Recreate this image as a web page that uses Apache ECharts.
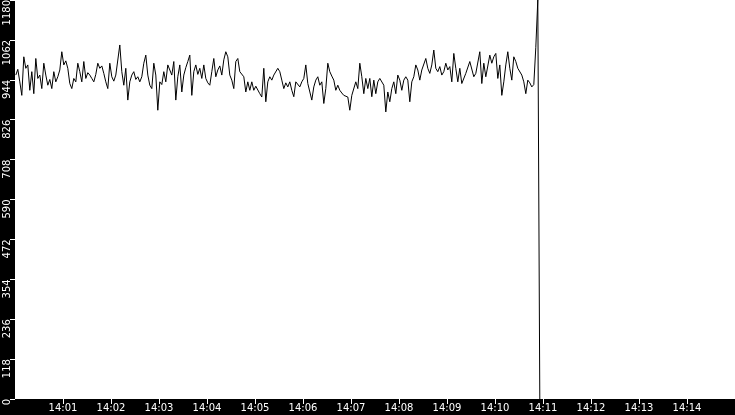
<!DOCTYPE html>
<html>
<head>
<meta charset="utf-8">
<script src="https://cdn.jsdelivr.net/npm/echarts@6/dist/echarts.min.js"></script>
<style>
html,body{margin:0;padding:0;background:#000;}
#chart{width:735px;height:415px;}
</style>
</head>
<body>
<div id="chart"></div>
<script>
// Sample times: first sample at 14:00:01, one sample every 2.5 s
const startTime = '14:00:01';
const stepSeconds = 2.5;

// Readings (values) in time order
const values = [
  // 14:00:01 - 14:01:49
  958,975,938,898,1012,978,988,913,968,903,1007,948,958,918,993,958,928,945,918,968,938,953,
  973,1027,988,1000,978,933,918,948,938,993,968,938,998,948,965,958,948,938,960,993,978,985,
  // 14:01:49 - 14:03:39
  963,938,918,993,953,940,958,958,1047,968,928,978,884,938,958,968,945,953,938,953,993,1017,
  958,928,918,993,958,854,938,930,968,938,988,993,958,998,884,953,988,908,958,980,998,1017,
  // 14:03:39 - 14:05:29
  898,968,988,960,978,948,988,948,935,928,968,1007,953,973,985,958,1003,1027,1012,958,943,918,
  998,1007,968,963,953,908,938,913,938,913,925,928,903,893,978,879,938,953,943,958,963,978,
  // 14:05:29 - 14:07:19
  968,943,918,935,923,938,913,894,938,938,923,938,948,988,933,938,884,923,943,953,928,938,
  874,918,993,968,955,943,913,928,913,905,898,903,893,854,898,903,938,918,993,953,903,948,
  // 14:07:19 - 14:09:09
  918,948,894,943,903,938,948,943,928,849,908,879,918,938,903,958,943,913,943,953,943,879,
  938,953,988,973,943,973,968,1007,978,963,988,1032,978,968,983,958,968,993,973,983,938,1022,
  // 14:09:09 - 14:10:56
  978,938,978,933,928,963,968,998,1002,953,963,958,1027,933,993,953,958,1017,993,1012,1022,948,
  988,898,938,988,1027,978,943,1012,998,978,978,958,938,903,943,935,923,930,
  1040,1180,0
];

const xTickLabels = ['14:01','14:02','14:03','14:04','14:05','14:06','14:07','14:08','14:09','14:10','14:11','14:12','14:13','14:14'];
const xStart = '14:00:00';
const xEnd = '14:15:00';
const yMax = 1180;
const yInterval = 118;

function toSec(s) {
  const p = s.split(':').map(Number);
  return p[0] * 3600 + p[1] * 60 + (p[2] || 0);
}
const t0 = toSec(startTime);
const seriesData = values.map((v, i) => [t0 + i * stepSeconds, v]);
const xMin = toSec(xStart);
const xMax = toSec(xEnd);

const chart = echarts.init(document.getElementById('chart'));
chart.setOption({
  backgroundColor: '#000',
  animation: false,
  grid: {
    left: 15, right: 0, top: 0, bottom: 16,
    outerBoundsMode: 'none',
    containLabel: false,
    show: true, backgroundColor: '#fff', borderWidth: 0
  },
  xAxis: {
    type: 'value',
    min: xMin, max: xMax, interval: 60,
    axisLine: { show: false },
    splitLine: { show: false },
    axisTick: { show: true, length: 5, lineStyle: { color: '#fff', width: 1 } },
    axisLabel: {
      color: '#fff', fontFamily: 'DejaVu Sans', fontSize: 10, margin: 4,
      showMinLabel: false, showMaxLabel: false,
      formatter: function (v) {
        const k = Math.round((v - xMin) / 60);
        return xTickLabels[k - 1] || '';
      }
    }
  },
  yAxis: {
    type: 'value',
    min: 0, max: yMax, interval: yInterval,
    axisLine: { show: false },
    splitLine: { show: false },
    axisTick: { show: true, length: 5, lineStyle: { color: '#fff', width: 1 } },
    axisLabel: {
      color: '#fff', fontFamily: 'DejaVu Sans', fontSize: 10, margin: 8,
      rotate: 90, align: 'right', verticalAlign: 'middle',
      formatter: function (v) { return String(v); }
    }
  },
  series: [{
    type: 'line',
    data: seriesData,
    showSymbol: false,
    symbol: 'none',
    clip: true,
    lineStyle: { color: '#000', width: 1 }
  }]
});
</script>
</body>
</html>
